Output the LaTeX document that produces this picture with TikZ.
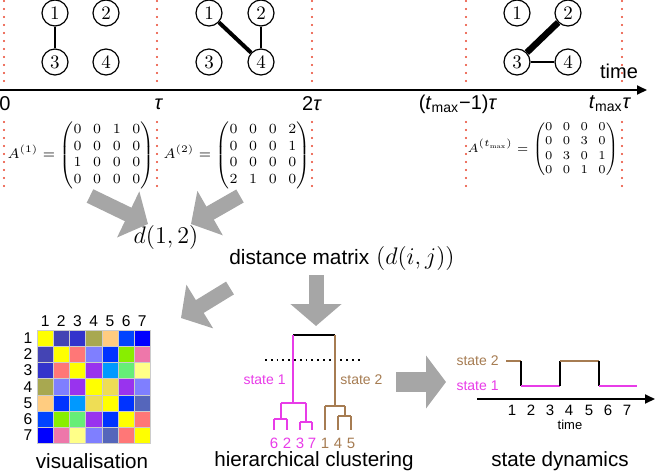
\documentclass[tikz,border=0pt]{standalone}
\usepackage{amsmath}
\usepackage{fontspec}
\newfontfamily\arial{Liberation Sans}
\usepackage{tikz}
\usetikzlibrary{arrows.meta,calc}

\definecolor{redline}{HTML}{E8432A}
\definecolor{arrowgray}{HTML}{A6A6A6}
\definecolor{stateone}{HTML}{E83CE8}
\definecolor{statetwo}{HTML}{A67C52}
% heat map colours
\definecolor{hmY}{HTML}{FFFF00}
\definecolor{hm12}{HTML}{4444B4}
\definecolor{hm13}{HTML}{3333CC}
\definecolor{hm14}{HTML}{A8A850}
\definecolor{hm15}{HTML}{FFCC80}
\definecolor{hm16}{HTML}{0044FF}
\definecolor{hm17}{HTML}{0000FF}
\definecolor{hm23}{HTML}{FF7777}
\definecolor{hm24}{HTML}{7F7FFF}
\definecolor{hm25}{HTML}{0033FF}
\definecolor{hm26}{HTML}{88EE00}
\definecolor{hm27}{HTML}{EE77AA}
\definecolor{hm34}{HTML}{9933EE}
\definecolor{hm35}{HTML}{0099FF}
\definecolor{hm36}{HTML}{66EE77}
\definecolor{hm37}{HTML}{FFFF88}
\definecolor{hm45}{HTML}{EEDD55}
\definecolor{hm46}{HTML}{9933EE}
\definecolor{hm47}{HTML}{7F7FFF}
\definecolor{hm56}{HTML}{0033FF}
\definecolor{hm57}{HTML}{5566BB}
\definecolor{hm67}{HTML}{FF7777}

\tikzset{
  vertex/.style={circle, draw, line width=0.6pt, minimum size=13pt, inner sep=0pt, font=\fontsize{9.5}{10}\selectfont},
  window/.style={draw=redline, line width=1.1pt, dash pattern=on 0pt off 4pt, line cap=round},
  bigarrow/.style={draw=arrowgray, line width=7.5pt, -{Triangle[width=25pt,length=11pt]}},
  axlbl/.style={font=\arial\fontsize{10}{12}\selectfont, inner sep=1pt},
  caption/.style={font=\arial\fontsize{10.3}{12}\selectfont, inner sep=1pt},
  small/.style={font=\arial\fontsize{7}{8}\selectfont, inner sep=1pt},
  hmlbl/.style={font=\arial\fontsize{7.8}{9}\selectfont, inner sep=0pt},
  adj/.style={inner sep=0pt, font=\fontsize{7}{8.3}\selectfont\setlength{\arraycolsep}{2.9pt}},
  tree/.style={line width=1pt},
}

\begin{document}
\begin{tikzpicture}[x=0.5pt, y=-0.5pt]
  \useasboundingbox (0,0) rectangle (655,472);

  % Time windows
  \foreach \x in {4,157,312,466,622} {
    \draw[window] (\x,1) -- (\x,86);
    \draw[window] (\x,122) -- (\x,190);
  }

  % Time axis
  \coordinate (tstart) at (0,90);
  \coordinate (tend) at (647,90);
  \draw[line width=1pt, -{Triangle[length=5pt,width=4.5pt]}] (tstart) -- (tend);
  \node[axlbl] (lab0) at (5,104) {0};
  \node[axlbl] (lab1) at (159,104) {\textit{τ}};
  \node[axlbl] (lab2) at (312,104) {2\textit{τ}};
  \node[axlbl] (lab3) at (458,104) {(\textit{t}\textsubscript{max}−1)\textit{τ}};
  \node[axlbl] (lab4) at (610,104) {\textit{t}\textsubscript{max}\textit{τ}};
  \node[axlbl] (time) at (619,71) {time};

  % Network in window 1
  \node[vertex] (a1) at (55,13) {1};
  \node[vertex] (a2) at (106,13) {2};
  \node[vertex] (a3) at (55,62) {3};
  \node[vertex] (a4) at (106,62) {4};
  \draw[line width=0.8pt] (a1) -- (a3);

  % Network in window 2
  \node[vertex] (b1) at (209,13) {1};
  \node[vertex] (b2) at (261,13) {2};
  \node[vertex] (b3) at (209,62) {3};
  \node[vertex] (b4) at (261,62) {4};
  \draw[line width=2pt] (b1) -- (b4);
  \draw[line width=0.8pt] (b2) -- (b4);

  % Network in last window
  \node[vertex] (c1) at (517,13) {1};
  \node[vertex] (c2) at (568,13) {2};
  \node[vertex] (c3) at (517,62) {3};
  \node[vertex] (c4) at (568,62) {4};
  \draw[line width=3.2pt] (c3) -- (c2);
  \draw[line width=0.8pt] (c3) -- (c4);

  % Adjacency matrices
  \node[adj] (m1) at (81,155)
    {$A^{(1)} = \begin{pmatrix}0&0&1&0\\0&0&0&0\\1&0&0&0\\0&0&0&0\end{pmatrix}$};
  \node[adj] (m2) at (237,155)
    {$A^{(2)} = \begin{pmatrix}0&0&0&2\\0&0&0&1\\0&0&0&0\\2&1&0&0\end{pmatrix}$};
  \node[adj, font=\fontsize{6.3}{7.3}\selectfont\setlength{\arraycolsep}{2.6pt}] (m3) at (543,149)
    {$A^{(t_{\max})} = \begin{pmatrix}0&0&0&0\\0&0&3&0\\0&3&0&1\\0&0&1&0\end{pmatrix}$};

  % Distances
  \node[font=\fontsize{11.5}{13}\selectfont] (d12) at (166,237) {$d(1,2)$};
  \node[font=\fontsize{10.4}{12}\selectfont] (dmat) at (342,258)
    {{\arial distance matrix} {\fontsize{12}{14}\selectfont$(d(i,j))$}};

  % Grey arrows
  \coordinate (g1a) at (90,196);
  \coordinate (g1b) at (148,224);
  \coordinate (g2a) at (240,196);
  \coordinate (g2b) at (191,224);
  \coordinate (g3a) at (230,288);
  \coordinate (g3b) at (181,318);
  \coordinate (g4a) at (316,275);
  \coordinate (g4b) at (316,326);
  \coordinate (g5a) at (396,382);
  \coordinate (g5b) at (446,382);
  \draw[bigarrow] (g1a) -- (g1b);
  \draw[bigarrow] (g2a) -- (g2b);
  \draw[bigarrow] (g3a) -- (g3b);
  \draw[bigarrow] (g4a) -- (g4b);
  \draw[bigarrow, line width=10pt, -{Triangle[width=26pt,length=10pt]}] (g5a) -- (g5b);

  % Visualisation of the distance matrix
  \foreach [count=\r] \row in {
      {hmY,hm12,hm13,hm14,hm15,hm16,hm17},
      {hm12,hmY,hm23,hm24,hm25,hm26,hm27},
      {hm13,hm23,hmY,hm34,hm35,hm36,hm37},
      {hm14,hm24,hm34,hmY,hm45,hm46,hm47},
      {hm15,hm25,hm35,hm45,hmY,hm56,hm57},
      {hm16,hm26,hm36,hm46,hm56,hmY,hm67},
      {hm17,hm27,hm37,hm47,hm57,hm67,hmY}} {
    \foreach [count=\c] \col in \row {
      \filldraw[fill=\col, draw=white!80!black, line width=0.3pt]
        ({37+(\c-1)*16.2},{330+(\r-1)*16.2}) rectangle ++(16.2,16.2);
    }
  }
  \foreach \i in {1,...,7} {
    \node[hmlbl] (col\i) at ({37+(\i-0.5)*16.2},321) {\i};
    \node[hmlbl] (row\i) at (28,{330+(\i-0.5)*16.2}) {\i};
  }
  \node[caption] (vis) at (92,461) {visualisation};

  % Dendrogram
  \draw[tree] (293,335) -- (335,335);
  \draw[line width=0.9pt, dotted] (265,360) -- (361,360);
  \draw[tree, stateone] (293,335) -- (293,403)
    (281,403) -- (306,403)
    (281,403) -- (281,419) (274,419) -- (287,419)
    (274,419) -- (274,430) (287,419) -- (287,430)
    (306,403) -- (306,422) (300,422) -- (312,422)
    (300,422) -- (300,430) (312,422) -- (312,430);
  \draw[tree, statetwo] (335,335) -- (335,406)
    (325,406) -- (345,406)
    (325,406) -- (325,430)
    (345,406) -- (345,416) (338,416) -- (351,416)
    (338,416) -- (338,430) (351,416) -- (351,430);
  \node[small, stateone, anchor=east] (s1) at (288,380) {state 1};
  \node[small, statetwo, anchor=west] (s2) at (338,380) {state 2};
  \foreach \x/\n in {274/6,287/2,300/3,312/7} {
    \node[small, stateone, font=\arial\fontsize{7.5}{8}\selectfont] (leaf\n) at (\x,443) {\n};
  }
  \foreach \x/\n in {325/1,338/4,351/5} {
    \node[small, statetwo, font=\arial\fontsize{7.5}{8}\selectfont] (leaf\n) at (\x,443) {\n};
  }
  \node[caption] (hc) at (314,461) {hierarchical clustering};

  % State dynamics
  \node[small, statetwo, anchor=east] (st2) at (501,361) {state 2};
  \node[small, stateone, anchor=east] (st1) at (501,386) {state 1};
  \draw[tree, statetwo] (506,361) -- (521,361);
  \draw[tree] (521,361) -- (521,386);
  \draw[tree, stateone] (521,386) -- (560,386);
  \draw[tree] (560,386) -- (560,361);
  \draw[tree, statetwo] (560,361) -- (599,361);
  \draw[tree] (599,361) -- (599,386);
  \draw[tree, stateone] (599,386) -- (637,386);
  \coordinate (sdstart) at (477,399);
  \coordinate (sdend) at (655,399);
  \draw[line width=1pt, -{Triangle[length=5pt,width=4.5pt]}] (sdstart) -- (sdend);
  \foreach \x [count=\k] in {512,531,550,569,589,608,627} {
    \node[small, font=\arial\fontsize{7.5}{8}\selectfont] (tick\k) at (\x,410) {\k};
  }
  \node[small, font=\arial\fontsize{6.5}{8}\selectfont] (sdtime) at (570,425) {time};
  \node[caption] (sd) at (560,461) {state dynamics};
\end{tikzpicture}
\end{document}
